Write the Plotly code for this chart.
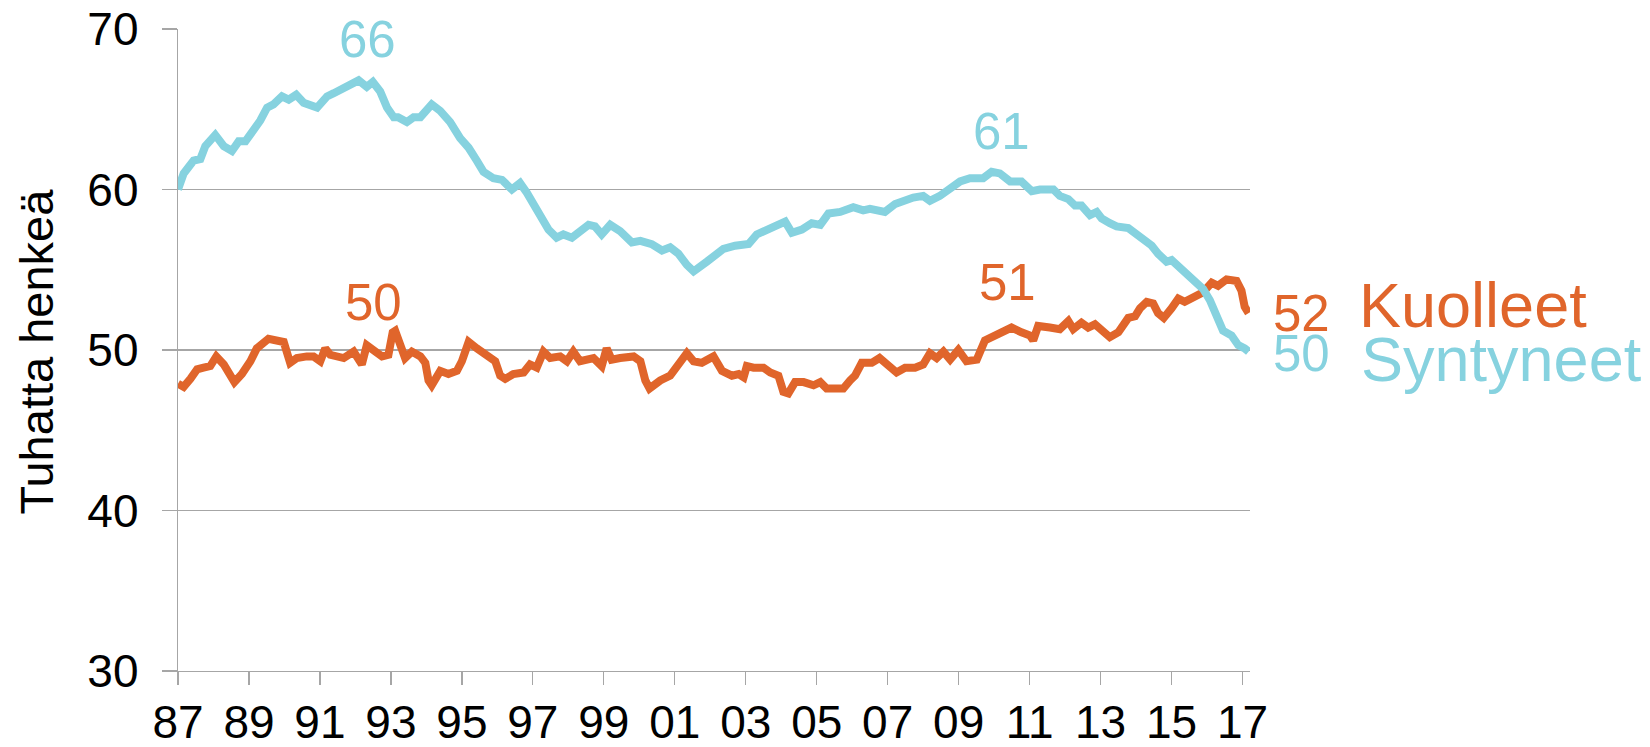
import plotly.graph_objects as go

# ---------------- data ----------------
births_years = [1987.00, 1987.16, 1987.30, 1987.44, 1987.63, 1987.77, 1988.05, 1988.29, 1988.52, 1988.71,
                1988.90, 1989.13, 1989.32, 1989.51, 1989.69, 1989.93, 1990.12, 1990.33, 1990.54, 1990.92,
                1991.20, 1991.39, 1991.67, 1991.90, 1992.09, 1992.32, 1992.49, 1992.70, 1992.89, 1993.08,
                1993.20, 1993.45, 1993.64, 1993.83, 1994.15, 1994.39, 1994.67, 1994.95, 1995.19, 1995.42,
                1995.61, 1995.89, 1996.13, 1996.41, 1996.64, 1996.83, 1997.11, 1997.30, 1997.44, 1997.67,
                1997.86, 1998.10, 1998.33, 1998.57, 1998.75, 1998.94, 1999.18, 1999.46, 1999.79, 2000.03,
                2000.35, 2000.64, 2000.87, 2001.10, 2001.34, 2001.53, 2001.90, 2002.18, 2002.37, 2002.70,
                2003.08, 2003.31, 2003.59, 2003.87, 2004.11, 2004.30, 2004.58, 2004.86, 2005.10, 2005.33,
                2005.66, 2006.03, 2006.31, 2006.50, 2006.92, 2007.21, 2007.44, 2007.72, 2008.00, 2008.19,
                2008.47, 2008.76, 2009.04, 2009.32, 2009.69, 2009.93, 2010.16, 2010.45, 2010.77, 2011.06,
                2011.29, 2011.67, 2011.85, 2012.09, 2012.28, 2012.46, 2012.70, 2012.89, 2013.03, 2013.26,
                2013.45, 2013.78, 2014.01, 2014.20, 2014.44, 2014.62, 2014.86, 2015.00, 2015.23, 2015.47,
                2015.66, 2015.89, 2016.08, 2016.27, 2016.45, 2016.69, 2016.88, 2017.06, 2017.17]
births_values = [60.0, 61.0, 61.4, 61.8, 61.9, 62.7, 63.4, 62.7, 62.4, 63.0,
                 63.0, 63.7, 64.3, 65.1, 65.3, 65.8, 65.6, 65.9, 65.4, 65.1,
                 65.8, 66.0, 66.3, 66.6, 66.8, 66.4, 66.7, 66.1, 65.1, 64.5,
                 64.5, 64.2, 64.5, 64.5, 65.3, 64.9, 64.2, 63.2, 62.6, 61.8,
                 61.1, 60.7, 60.6, 60.0, 60.4, 59.8, 58.7, 58.2, 57.5, 57.0,
                 57.2, 57.0, 57.4, 57.8, 57.7, 57.2, 57.8, 57.4, 56.7, 56.8,
                 56.6, 56.2, 56.4, 56.0, 55.3, 54.9, 55.5, 55.9, 56.3, 56.5,
                 56.6, 57.2, 57.5, 57.7, 58.0, 57.3, 57.5, 57.9, 57.8, 58.5,
                 58.6, 58.9, 58.7, 58.8, 58.6, 59.1, 59.3, 59.5, 59.6, 59.3,
                 59.6, 60.0, 60.5, 60.7, 60.7, 61.1, 61.0, 60.5, 60.5, 59.9,
                 60.0, 60.0, 59.6, 59.4, 59.0, 59.0, 58.4, 58.6, 58.2, 57.9,
                 57.7, 57.6, 57.2, 57.0, 56.5, 56.0, 55.5, 55.6, 55.1, 54.7,
                 54.2, 53.8, 53.1, 52.2, 51.2, 50.9, 50.3, 50.1, 49.9]

deaths_years = [1987.00, 1987.16, 1987.35, 1987.54, 1987.72, 1987.91, 1988.08, 1988.29, 1988.59, 1988.80,
                1989.04, 1989.22, 1989.55, 1989.79, 1989.98, 1990.16, 1990.35, 1990.63, 1990.82, 1991.01,
                1991.15, 1991.29, 1991.53, 1991.67, 1991.95, 1992.18, 1992.32, 1992.51, 1992.75, 1992.93,
                1993.05, 1993.12, 1993.26, 1993.40, 1993.59, 1993.83, 1993.97, 1994.06, 1994.15, 1994.39,
                1994.62, 1994.86, 1995.00, 1995.19, 1995.42, 1995.70, 1995.94, 1996.08, 1996.22, 1996.45,
                1996.74, 1996.92, 1997.11, 1997.30, 1997.49, 1997.77, 1997.96, 1998.14, 1998.33, 1998.71,
                1998.94, 1999.08, 1999.22, 1999.46, 1999.84, 2000.03, 2000.17, 2000.29, 2000.59, 2000.87,
                2001.10, 2001.34, 2001.53, 2001.76, 2002.09, 2002.33, 2002.61, 2002.80, 2002.94, 2003.03,
                2003.22, 2003.50, 2003.69, 2003.92, 2004.06, 2004.20, 2004.39, 2004.63, 2004.91, 2005.10,
                2005.28, 2005.56, 2005.75, 2005.94, 2006.08, 2006.27, 2006.55, 2006.77, 2007.02, 2007.25,
                2007.49, 2007.77, 2008.00, 2008.19, 2008.38, 2008.57, 2008.76, 2008.99, 2009.22, 2009.51,
                2009.74, 2009.98, 2010.26, 2010.49, 2010.77, 2011.01, 2011.10, 2011.24, 2011.57, 2011.85,
                2012.09, 2012.23, 2012.46, 2012.65, 2012.84, 2013.07, 2013.26, 2013.50, 2013.64, 2013.78,
                2013.97, 2014.11, 2014.30, 2014.48, 2014.62, 2014.78, 2015.00, 2015.19, 2015.37, 2015.61,
                2015.89, 2016.13, 2016.31, 2016.55, 2016.83, 2016.97, 2017.06, 2017.17]
deaths_values = [47.9, 47.7, 48.2, 48.8, 48.9, 49.0, 49.6, 49.1, 48.0, 48.5,
                 49.3, 50.1, 50.7, 50.6, 50.5, 49.2, 49.5, 49.6, 49.6, 49.3,
                 50.1, 49.7, 49.5, 49.5, 49.9, 49.1, 50.3, 50.0, 49.6, 49.7,
                 51.1, 51.2, 50.2, 49.5, 49.9, 49.6, 49.2, 48.1, 47.8, 48.7,
                 48.5, 48.7, 49.3, 50.5, 50.1, 49.7, 49.3, 48.4, 48.2, 48.5,
                 48.6, 49.1, 48.9, 49.9, 49.5, 49.6, 49.3, 49.9, 49.3, 49.5,
                 49.0, 50.1, 49.4, 49.5, 49.6, 49.3, 48.1, 47.6, 48.1, 48.4,
                 49.0, 49.8, 49.3, 49.2, 49.6, 48.7, 48.4, 48.5, 48.3, 49.0,
                 48.9, 48.9, 48.6, 48.4, 47.4, 47.3, 48.0, 48.0, 47.8, 48.0,
                 47.6, 47.6, 47.6, 48.1, 48.4, 49.2, 49.2, 49.5, 49.1, 48.6,
                 48.9, 48.9, 49.1, 49.8, 49.5, 49.9, 49.4, 50.0, 49.3, 49.4,
                 50.6, 50.9, 51.2, 51.4, 51.1, 50.9, 50.6, 51.5, 51.4, 51.3,
                 51.8, 51.3, 51.7, 51.4, 51.6, 51.2, 50.8, 51.1, 51.6, 52.0,
                 52.1, 52.6, 53.0, 52.9, 52.3, 52.0, 52.6, 53.2, 53.0, 53.3,
                 53.6, 54.2, 54.0, 54.4, 54.3, 53.7, 52.7, 52.3]

tick_years = [1987, 1989, 1991, 1993, 1995, 1997, 1999, 2001, 2003, 2005, 2007, 2009, 2011, 2013, 2015, 2017]
tick_labels = ["87", "89", "91", "93", "95", "97", "99", "01", "03", "05", "07", "09", "11", "13", "15", "17"]
y_ticks = [30, 40, 50, 60, 70]

series_names = ["Syntyneet", "Kuolleet"]
peak_labels_births = ["66", "61"]
peak_labels_deaths = ["50", "51"]
end_label_births = "50"
end_label_deaths = "52"
y_title = "Tuhatta henkeä"

# ---------------- style ----------------
CYAN = "#86D2DF"
ORANGE = "#E0652B"
GRID = "#A6A6A6"
FONT = "Arial, Liberation Sans, sans-serif"
W, H = 1650, 747
ML, MR, MT, MB = 178, 400, 29, 76
PW, PH = W - ML - MR, H - MT - MB


def px(xp, yp):
    return (xp - ML) / PW, (H - MB - yp) / PH


fig = go.Figure()
fig.add_trace(go.Scatter(x=deaths_years, y=deaths_values, mode="lines", name=series_names[1],
                         line=dict(color=ORANGE, width=8), hoverinfo="skip"))
fig.add_trace(go.Scatter(x=births_years, y=births_values, mode="lines", name=series_names[0],
                         line=dict(color=CYAN, width=8), hoverinfo="skip"))

annotations = []


def add_label(text, xp, yp, color, size, xanchor="center"):
    ax, ay = px(xp, yp)
    annotations.append(dict(text=text, x=ax, y=ay, xref="paper", yref="paper", xanchor=xanchor,
                            yanchor="middle", showarrow=False, borderpad=0,
                            font=dict(family=FONT, size=size, color=color)))


add_label(peak_labels_births[0], 367, 39, CYAN, 51)
add_label(peak_labels_births[1], 1001, 131, CYAN, 51)
add_label(peak_labels_deaths[0], 373, 302, ORANGE, 51)
add_label(peak_labels_deaths[1], 1007, 282, ORANGE, 51)
add_label(end_label_deaths, 1272, 313, ORANGE, 51, "left")
add_label(series_names[1], 1358, 305, ORANGE, 63, "left")
add_label(end_label_births, 1272, 353, CYAN, 51, "left")
add_label(series_names[0], 1360, 359, CYAN, 63, "left")

tx, ty = px(36, 351.5)
annotations.append(dict(text=y_title, x=tx, y=ty, xref="paper", yref="paper", xanchor="center",
                        yanchor="middle", textangle=-90, showarrow=False, borderpad=0,
                        font=dict(family=FONT, size=47, color="black")))

fig.update_layout(
    width=W, height=H, autosize=False,
    margin=dict(l=ML, r=MR, t=MT, b=MB, pad=0, autoexpand=False),
    paper_bgcolor="white", plot_bgcolor="white",
    showlegend=False,
    annotations=annotations,
    font=dict(family=FONT, color="black"),
)
fig.update_xaxes(range=[1987, 2017.21], tickmode="array", tickvals=tick_years, ticktext=tick_labels,
                 showgrid=False, zeroline=False, showline=True, linecolor=GRID, linewidth=1.3,
                 ticks="outside", ticklen=13, tickwidth=1.3, tickcolor=GRID, automargin=False,
                 ticklabelstandoff=-3,
                 tickfont=dict(family=FONT, size=46, color="black"), fixedrange=True)
fig.update_yaxes(range=[30, 70], tickmode="array", tickvals=y_ticks,
                 showgrid=True, gridcolor=GRID, gridwidth=1.3, zeroline=False,
                 showline=True, linecolor=GRID, linewidth=1.3, automargin=False,
                 ticks="outside", ticklen=15, tickwidth=1.3, tickcolor=GRID,
                 ticklabelstandoff=14,
                 tickfont=dict(family=FONT, size=46, color="black"), fixedrange=True)

fig.write_html("out.html", config={"displayModeBar": False, "staticPlot": True},
               post_script="document.body.style.margin='0';document.body.style.overflow='hidden';")
